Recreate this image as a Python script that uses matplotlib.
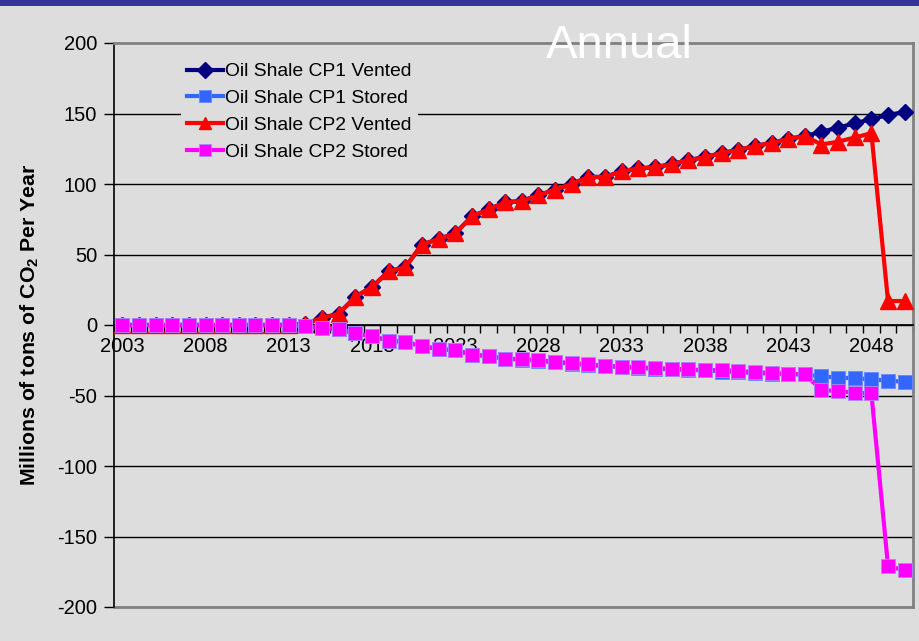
import matplotlib.pyplot as plt
import matplotlib.patches as mpatches
import numpy as np

plt.rcParams['font.family'] = ['Liberation Sans', 'DejaVu Sans']
plt.rcParams['mathtext.fontset'] = 'custom'
plt.rcParams['mathtext.rm'] = 'Liberation Sans'
plt.rcParams['mathtext.bf'] = 'Liberation Sans:bold'

years = list(range(2003, 2051))

cp1_vented = [0, 0, 0, 0, 0, 0, 0, 0, 0, 0, 0, 1, 5, 8, 20, 27, 38, 41, 57, 61,
              65, 77, 82, 87, 88, 92, 96, 100, 105, 105, 109, 111, 112, 114, 117, 119,
              122, 124, 127, 129, 132, 134, 137, 140, 143, 146, 149, 151]
cp1_stored = [0, 0, 0, 0, 0, 0, 0, 0, 0, 0, 0, -1, -2, -3, -6, -8, -11, -12, -15, -17,
              -18, -21, -22, -24, -24.5, -25.5, -26.5, -27.5, -28.5, -29, -30, -30.5, -31, -31.5, -32, -32,
              -33, -33.5, -34, -34.5, -35, -35, -36.5, -37.3, -37.8, -38.5, -39.5, -40.2]
cp2_vented = [0, 0, 0, 0, 0, 0, 0, 0, 0, 0, 0, 1, 5, 8, 20, 27, 38, 41, 57, 61,
              65, 77, 82, 87, 88, 92, 96, 100, 105, 105, 109, 111, 112, 114, 117, 119,
              122, 124, 127, 129, 132, 134, 128, 130, 133, 136, 17, 17]
cp2_stored = [0, 0, 0, 0, 0, 0, 0, 0, 0, 0, 0, -1, -2, -3, -6, -8, -11, -12, -15, -17,
              -18, -21, -22, -24, -24, -25, -26, -27, -28, -29, -29.5, -30, -30.5, -31, -31.5, -32,
              -32, -32.5, -33.5, -34, -34.5, -35, -46, -47, -48, -48.5, -171, -174]

yticks = [-200, -150, -100, -50, 0, 50, 100, 150, 200]
xlabels = list(range(2003, 2049, 5))

bg = '#dddddd'
fig = plt.figure(figsize=(9.19, 6.41), dpi=100, facecolor=bg)
fig.patches.append(mpatches.Rectangle((0, 1 - 6 / 641), 1, 6 / 641, transform=fig.transFigure,
                                      facecolor='#333399', edgecolor='none'))
ax = fig.add_axes([114 / 919, 1 - 607 / 641, (913 - 114) / 919, (607 - 43) / 641])
ax.set_facecolor(bg)

ax.plot(years, cp1_vented, color='#000080', lw=3, marker='D', ms=8.5, mec='#000080',
        label='Oil Shale CP1 Vented', zorder=3)
ax.plot(years, cp1_stored, color='#3366ff', lw=3, marker='s', ms=10.5, mec='#6688ff', mew=0.6,
        label='Oil Shale CP1 Stored', zorder=3)
ax.plot(years, cp2_vented, color='#ff0000', lw=3, marker='^', ms=11, mec='#ff0000',
        label='Oil Shale CP2 Vented', zorder=3)
ax.plot(years, cp2_stored, color='#ff00ff', lw=3, marker='s', ms=10.5, mec='#aa88ff', mew=0.6,
        label='Oil Shale CP2 Stored', zorder=3)

ax.set_xlim(2002.5, 2050.5)
ax.set_ylim(-200, 200)

# gridlines
for v in yticks[1:-1]:
    ax.axhline(v, color='black', lw=1, zorder=1)

for s in ['top', 'right']:
    ax.spines[s].set_color('#808080')
    ax.spines[s].set_linewidth(2)
ax.spines['left'].set_color('black')
ax.spines['left'].set_linewidth(1.2)
ax.spines['bottom'].set_position(('data', 0))
ax.spines['bottom'].set_color('black')
ax.spines['bottom'].set_linewidth(1.2)
ax.axhline(-200, color='#808080', lw=2, zorder=2, clip_on=False)

ax.set_yticks(yticks)
ax.set_yticklabels([str(v) for v in yticks])
ax.tick_params(axis='y', length=7, width=1, direction='out', pad=5, labelsize=14.5, color='black')

ax.set_xticks(xlabels)
ax.set_xticklabels([str(v) for v in xlabels])
ax.set_xticks(np.arange(2002.5, 2051, 1), minor=True)
ax.tick_params(axis='x', which='major', length=0, pad=9, labelsize=14.5)
ax.tick_params(axis='x', which='minor', length=6, width=1, direction='out', color='black')

fig.text(30 / 919, 1 - 325 / 641, r'Millions of tons of CO$_\mathbf{2}$ Per Year',
         rotation=90, ha='center', va='center', fontsize=15.3, fontweight='bold')
fig.text(619 / 919, 1 - 58 / 641, 'Annual', color='white', fontsize=34,
         ha='center', va='baseline')

leg = ax.legend(loc='upper left', bbox_to_anchor=(181 / 919, 1 - 57 / 641),
                bbox_transform=fig.transFigure, fontsize=13.9, frameon=True,
                facecolor=bg, edgecolor='none', framealpha=1, fancybox=False,
                borderpad=0.3, borderaxespad=0, labelspacing=0.48,
                handlelength=1.9, handletextpad=0.1, numpoints=1)
leg.set_zorder(5)
for h in leg.get_lines():
    h.set_markersize(8.5)

fig.savefig('out.png', dpi=100, facecolor=bg)
